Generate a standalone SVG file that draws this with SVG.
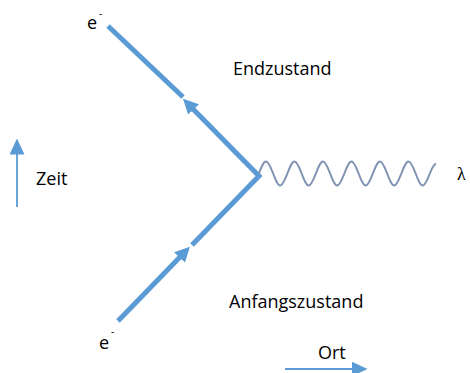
<svg xmlns="http://www.w3.org/2000/svg" width="470" height="373" viewBox="0 0 470 373">
<style>
.lbl{font-family:"Open Sans","Liberation Sans",sans-serif;font-size:18px;fill:#000}
.sup{font-family:"Open Sans","Liberation Sans",sans-serif;font-size:10px;fill:#000}
.lam{font-family:"Liberation Serif",serif;font-size:18px;fill:#000}
.fer{fill:none;stroke:#5B9BD5;stroke-width:5;stroke-linejoin:miter;stroke-miterlimit:10}
.axis{fill:none;stroke:#5B9BD5;stroke-width:1.8}
.wave{fill:none;stroke:#8093B3;stroke-width:2}
</style>
<defs>
<marker id="ah" viewBox="0 0 10 10" refX="0.5" refY="5" markerWidth="3" markerHeight="3" orient="auto" markerUnits="strokeWidth">
<path d="M0,0 L10,5 L0,10 z" fill="#5B9BD5"/>
</marker>
<marker id="ahs" viewBox="0 0 16 15" refX="0.5" refY="7.5" markerWidth="16" markerHeight="15" orient="auto" markerUnits="userSpaceOnUse">
<path d="M0,0 L16,7.5 L0,15 z" fill="#5B9BD5"/>
</marker>
</defs>
<g id="connectors">
<path class="fer" d="M108,26 L183,97"/>
<path class="fer" d="M192,245 L259,176 L193,109" marker-end="url(#ah)"/>
<path class="fer" d="M118,321 L180,257" marker-end="url(#ah)"/>
<path id="photon" class="wave" d="M258.9,173.5 c2.32,-6.15 4.55,-12 7.125,-12 c2.575,0 4.805,6.15 7.125,12 c2.32,6.15 4.55,12 7.125,12 c2.575,0 4.805,-6.15 7.125,-12 c2.32,-6.15 4.55,-12 7.125,-12 c2.575,0 4.805,6.15 7.125,12 c2.32,6.15 4.55,12 7.125,12 c2.575,0 4.805,-6.15 7.125,-12 c2.32,-6.15 4.55,-12 7.125,-12 c2.575,0 4.805,6.15 7.125,12 c2.32,6.15 4.55,12 7.125,12 c2.575,0 4.805,-6.15 7.125,-12 c2.32,-6.15 4.55,-12 7.125,-12 c2.575,0 4.805,6.15 7.125,12 c2.32,6.15 4.55,12 7.125,12 c2.575,0 4.805,-6.15 7.125,-12 c2.32,-6.15 4.55,-12 7.125,-12 c2.575,0 4.805,6.15 7.125,12 c2.32,6.15 4.55,12 7.125,12 c2.575,0 4.805,-6.15 7.125,-12 c2.32,-6.15 4.55,-12 7.125,-12 c2.575,0 4.805,6.15 7.125,12 c2.32,6.15 4.55,12 7.125,12 c2.575,0 4.805,-6.15 7.125,-12 c1.8,-4.8 3.6,-8.5 6,-9.8"/>
</g>
<g id="axis-zeit">
<path class="axis" d="M17,207 L17,154" marker-end="url(#ahs)"/>
<text class="lbl" x="36" y="185">Zeit</text>
</g>
<g id="axis-ort">
<path class="axis" d="M285,369 L352,369" marker-end="url(#ahs)"/>
<text class="lbl" x="318" y="359">Ort</text>
</g>
<g id="e-out">
<text class="lbl" x="87" y="29">e</text>
<text class="sup" x="99" y="17">-</text>
</g>
<g id="e-in">
<text class="lbl" x="99" y="349">e</text>
<text class="sup" x="111" y="335">-</text>
</g>
<g id="label-end">
<text class="lbl" x="233" y="75">Endzustand</text>
</g>
<g id="label-start">
<text class="lbl" x="229" y="308">Anfangszustand</text>
</g>
<g id="lambda">
<text class="lam" x="457" y="180">λ</text>
</g>
</svg>
